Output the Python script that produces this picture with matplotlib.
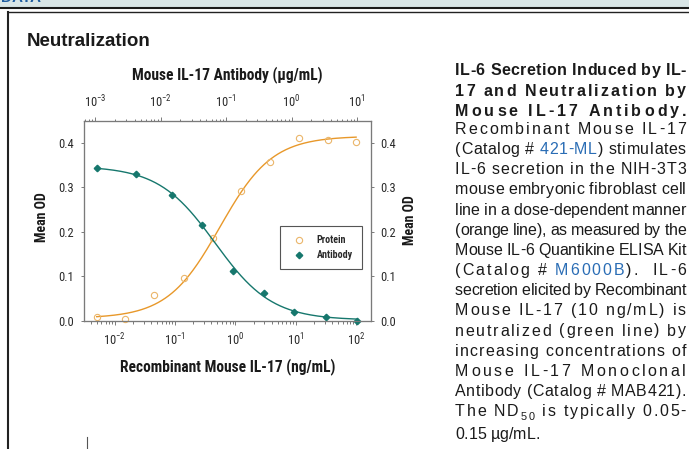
import numpy as np
import matplotlib
matplotlib.use('Agg')
import matplotlib.pyplot as plt
from matplotlib import font_manager
from matplotlib.patches import Rectangle

W, H = 689, 449

# values
protein_conc = [0.005, 0.015, 0.045, 0.14, 0.42, 1.23, 3.7, 11.4, 34, 100]      # ng/mL, bottom axis
protein_od = [0.010, 0.004, 0.058, 0.097, 0.186, 0.292, 0.358, 0.410, 0.407, 0.402]
antibody_conc = [0.00107, 0.0042, 0.0148, 0.0425, 0.127, 0.38, 1.1, 3.33, 9.9]  # ug/mL, top axis
antibody_od = [0.343, 0.330, 0.282, 0.216, 0.113, 0.063, 0.020, 0.010, 0.0]

# 4PL fit parameters: bottom, top, midpoint, hill
protein_fit = (0.006, 0.415, 0.55, 1.0)
antibody_fit = (0.002, 0.348, 0.068, -1.0)

yticks = [0.0, 0.1, 0.2, 0.3, 0.4]

ORANGE = '#e8982a'
ORANGE_LT = '#ebb66a'
TEAL = '#16776d'
GRAY = '#7a7a7a'
BLUE = '#2a6db5'
INK = '#1a1a1a'

# look for a condensed face for the chart lettering
CHART_FONT, CHART_STRETCH = 'Liberation Sans', 'normal'
condensed = ('condensed', 'semi-condensed', 'extra-condensed')
entries = font_manager.fontManager.ttflist
for fam in ['Liberation Sans Narrow', 'Roboto Condensed', 'Noto Sans', 'Open Sans', 'DejaVu Sans']:
    hits = [f for f in entries if f.name == fam and f.style == 'normal'
            and (fam.endswith(('Narrow', 'Condensed')) or f.stretch in condensed)]
    if hits:
        CHART_FONT = fam
        CHART_STRETCH = hits[0].stretch if hits[0].stretch in condensed else 'normal'
        break
BODY_FONT = 'Liberation Sans'

plt.rcParams['font.family'] = [CHART_FONT, 'DejaVu Sans']
plt.rcParams['font.stretch'] = CHART_STRETCH
plt.rcParams['mathtext.default'] = 'regular'


def fourpl(x, bottom, top, mid, hill):
    return bottom + (top - bottom) / (1 + (mid / x) ** hill)


fig = plt.figure(figsize=(W / 100, H / 100), dpi=100)

# page background, drawn in pixel coordinates
bg = fig.add_axes([0, 0, 1, 1])
bg.set_xlim(0, W)
bg.set_ylim(H, 0)
bg.axis('off')
bg.add_patch(Rectangle((0, 0), W, 7, color='#d8e5e6', lw=0))
bg.text(1, 2.5, 'DATA', color='#1f5da0', fontsize=11, weight='bold',
        family=BODY_FONT, stretch='normal', va='baseline')
bg.plot([0, W], [7.5, 7.5], color='#1a1a1a', lw=1.5)
bg.plot([7.5, W], [11.6, 11.6], color='#222222', lw=1.0)
bg.plot([8.2, 8.2], [11.6, H], color='#222222', lw=1.5)
bg.plot([87, 87], [437, H], color='#555555', lw=0.8)

bg.text(27, 42, 'Neutralization', fontsize=13.5, weight='bold', family=BODY_FONT,
        stretch='normal', color=INK, va='center')

# chart titles
bg.text(227.3, 75, 'Mouse IL-17 Antibody (\u00b5g/mL)', fontsize=11.2, weight='semibold',
        ha='center', va='center', color=INK)
bg.text(227.3, 367, 'Recombinant Mouse IL-17 (ng/mL)', fontsize=11.2, weight='semibold',
        ha='center', va='center', color=INK)
bg.text(42, 217, 'Mean OD', fontsize=10, weight='semibold', rotation=90,
        ha='center', va='center', color=INK)
bg.text(410, 220, 'Mean OD', fontsize=10, weight='semibold', rotation=90,
        ha='center', va='center', color=INK)

# axes
ax = fig.add_axes([83.5 / W, 1 - 321 / H, 287.5 / W, 200 / H])
ax.set_xscale('log')
ax.set_xlim(10 ** -2.52, 10 ** 2.247)
ax.set_ylim(0, 0.449)
xs = np.logspace(np.log10(min(protein_conc)), np.log10(max(protein_conc)), 300)
ax.plot(xs, fourpl(xs, *protein_fit), color=ORANGE, lw=1.0, zorder=2)
hp, = ax.plot(protein_conc, protein_od, 'o', mfc='none', mec=ORANGE_LT, ms=4.5, mew=0.8,
              clip_on=False, zorder=3, label='Protein')
ax.set_yticks(yticks)
ax.set_yticklabels(['%.1f' % v for v in yticks])

axt = ax.twiny()
axt.set_xscale('log')
axt.set_xlim(10 ** -3.18, 10 ** 1.214)
xa = np.logspace(np.log10(min(antibody_conc)), np.log10(max(antibody_conc)), 300)
axt.plot(xa, fourpl(xa, *antibody_fit), color=TEAL, lw=1.0, zorder=2)
ha, = axt.plot(antibody_conc, antibody_od, 'D', color=TEAL, ms=3.3, clip_on=False,
               zorder=3, label='Antibody')

axr = ax.twinx()
axr.set_ylim(0, 0.449)
axr.set_yticks(yticks)
axr.set_yticklabels(['%.1f' % v for v in yticks])

for a in (ax, axt, axr):
    for s in a.spines.values():
        s.set_color(GRAY)
        s.set_linewidth(0.8)
    a.tick_params(which='both', direction='out', color=GRAY, labelcolor='#2a2a2a',
                  labelsize=9, width=0.7)
ax.tick_params(axis='x', which='major', length=3, pad=5)
ax.tick_params(axis='x', which='minor', length=1.8)
ax.tick_params(axis='y', length=2.5, pad=4.3)
axt.tick_params(axis='x', which='major', length=3, pad=4.5)
axt.tick_params(axis='x', which='minor', length=1.8)
axr.tick_params(axis='y', length=2.5, pad=4.3)

leg = axr.legend([hp, ha], ['Protein', 'Antibody'], loc='center',
                 bbox_to_anchor=(0.8256, 0.366), frameon=True,
                 prop={'size': 7.2, 'weight': 'semibold'},
                 fancybox=False, edgecolor='#555555', framealpha=1,
                 handlelength=2.0, handletextpad=0.8, borderpad=0.9,
                 labelspacing=0.5, borderaxespad=0)
leg.get_frame().set_linewidth(0.8)
for t in leg.get_texts():
    t.set_color('#2a2a2a')

# caption on the right, justified line by line
X0, X1 = 455, 686
FS = 11.5
renderer = fig.canvas.get_renderer()
cache = {}


def adv(ch, size, weight):
    key = (ch, size, weight)
    if key not in cache:
        prop = font_manager.FontProperties(family=BODY_FONT, size=size, weight=weight,
                                           stretch='normal')
        w2 = renderer.get_text_width_height_descent('x' + ch + 'x', prop, ismath=False)[0]
        w1 = renderer.get_text_width_height_descent('xx', prop, ismath=False)[0]
        cache[key] = w2 - w1
    return cache[key]


caption = [
    [('IL-6 Secretion Induced by IL-', INK, 'bold', 1.0, 0)],
    [('17 and Neutralization by', INK, 'bold', 1.0, 0)],
    [('Mouse IL-17 Antibody.', INK, 'bold', 1.0, 0)],
    [('Recombinant Mouse IL-17', INK, 'normal', 1.0, 0)],
    [('(Catalog # ', INK, 'normal', 1.0, 0), ('421-ML', BLUE, 'normal', 1.0, 0),
     (') stimulates', INK, 'normal', 1.0, 0)],
    [('IL-6 secretion in the NIH-3T3', INK, 'normal', 1.0, 0)],
    [('mouse embryonic fibroblast cell', INK, 'normal', 1.0, 0)],
    [('line in a dose-dependent manner', INK, 'normal', 1.0, 0)],
    [('(orange line), as measured by the', INK, 'normal', 1.0, 0)],
    [('Mouse IL-6 Quantikine ELISA Kit', INK, 'normal', 1.0, 0)],
    [('(Catalog # ', INK, 'normal', 1.0, 0), ('M6000B', BLUE, 'normal', 1.0, 0),
     (').  IL-6', INK, 'normal', 1.0, 0)],
    [('secretion elicited by Recombinant', INK, 'normal', 1.0, 0)],
    [('Mouse IL-17 (10 ng/mL) is', INK, 'normal', 1.0, 0)],
    [('neutralized (green line) by', INK, 'normal', 1.0, 0)],
    [('increasing concentrations of', INK, 'normal', 1.0, 0)],
    [('Mouse IL-17 Monoclonal', INK, 'normal', 1.0, 0)],
    [('Antibody (Catalog # MAB421).', INK, 'normal', 1.0, 0)],
    [('The ND', INK, 'normal', 1.0, 0), ('50', INK, 'normal', 0.68, 3.5),
     (' is typically 0.05-', INK, 'normal', 1.0, 0)],
    [('0.15 \u00b5g/mL.', INK, 'normal', 1.0, 0)],
]
line_y = [71, 91.5, 111.5, 130, 150.2, 170.3, 190.5, 210.6, 230.8, 250.9, 271,
          291.2, 311.4, 331.5, 351.7, 371.8, 392, 412.1, 435]

for i, segs in enumerate(caption):
    chars = []
    for text, color, weight, scale, dy in segs:
        for c in text:
            chars.append((c, color, weight, FS * scale, dy))
    widths = [adv(c, s, w) for c, col, w, s, dy in chars]
    justify = i < len(caption) - 1
    gap = (X1 - X0 - sum(widths)) / (len(chars) - 1) if justify else 0
    x = X0
    base = line_y[i] + 4
    for (c, col, w, s, dy), cw in zip(chars, widths):
        if c != ' ':
            bg.text(x, base + dy, c, fontsize=s, weight=w, color=col,
                    family=BODY_FONT, stretch='normal', ha='left', va='baseline')
        x += cw + gap

fig.savefig('out.png', dpi=100)
